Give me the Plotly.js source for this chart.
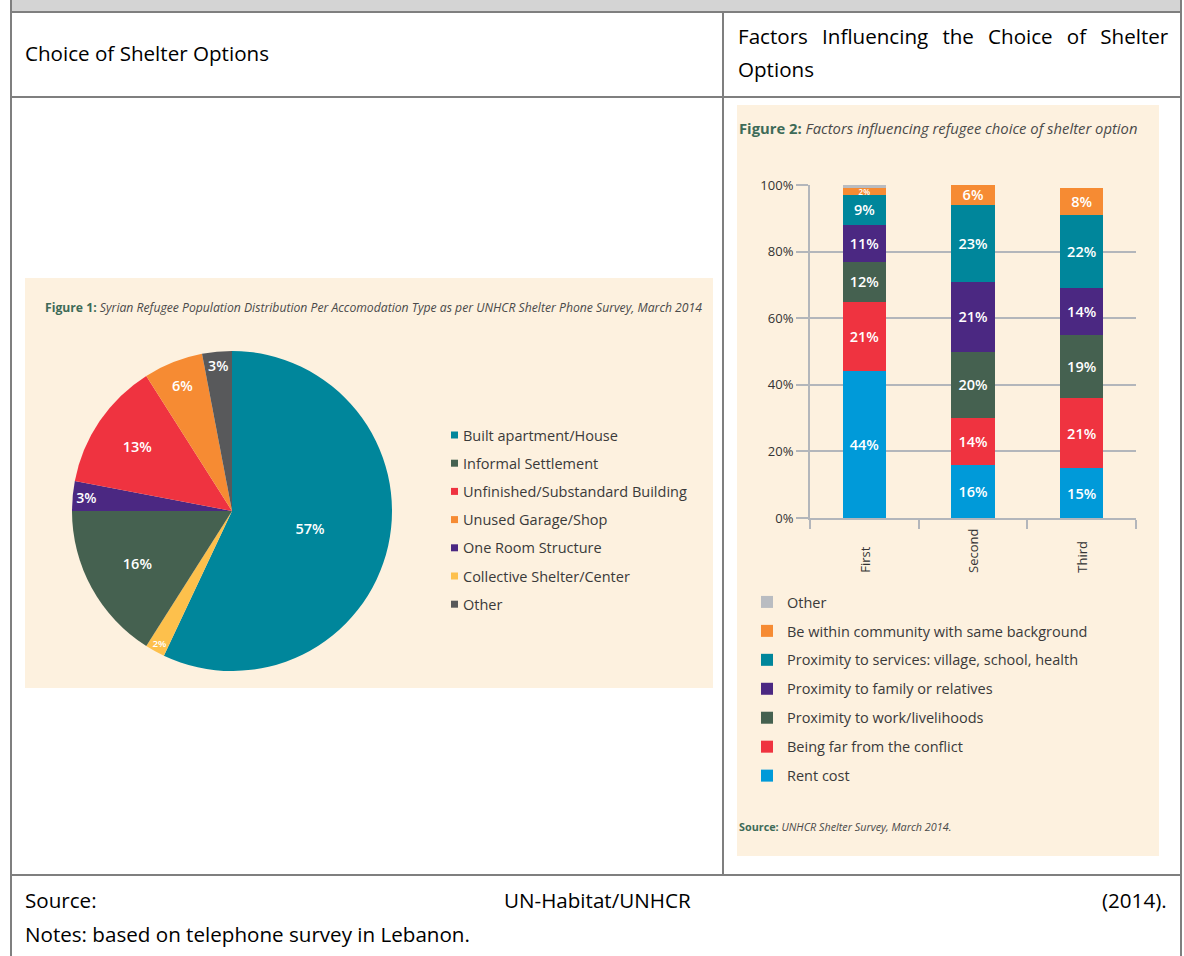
<!DOCTYPE html>
<html>
<head>
<meta charset="utf-8">
<script src="https://cdn.plot.ly/plotly-3.0.1.min.js"></script>
<style>
  html, body { margin: 0; padding: 0; background: #ffffff; }
  #chart { width: 1184px; height: 956px; }
</style>
</head>
<body>
<div id="chart"></div>
<script>
// ---------------- Data ----------------
// Figure 1 (pie): slices in clockwise order from 12 o'clock
const pieLabels = ['Built apartment/House', 'Collective Shelter/Center', 'Informal Settlement',
  'One Room Structure', 'Unfinished/Substandard Building', 'Unused Garage/Shop', 'Other'];
const pieValues = [57, 2, 16, 3, 13, 6, 3];
const pieColors = ['#00869b', '#fdc04c', '#456150', '#4b2882', '#ef3340', '#f68b33', '#58595b'];
// legend order as printed
const pieLegendOrder = ['Built apartment/House', 'Informal Settlement', 'Unfinished/Substandard Building',
  'Unused Garage/Shop', 'One Room Structure', 'Collective Shelter/Center', 'Other'];

// Figure 2 (stacked bars)
const rankCategories = ['First', 'Second', 'Third'];
const barSeriesNames = ['Rent cost', 'Being far from the conflict', 'Proximity to work/livelihoods',
  'Proximity to family or relatives', 'Proximity to services: village, school, health',
  'Be within community with same background', 'Other'];
const rentCost = [44, 16, 15];
const farFromConflict = [21, 14, 21];
const proximityWork = [12, 20, 19];
const proximityFamily = [11, 21, 14];
const proximityServices = [9, 23, 22];
const withinCommunity = [2, 6, 8];
const otherFactor = [1, 0, 0];
const barSeriesValues = [rentCost, farFromConflict, proximityWork, proximityFamily,
  proximityServices, withinCommunity, otherFactor];
const barColors = ['#009ad9', '#ef3340', '#456150', '#4b2882', '#00869b', '#f68b33', '#b9bcc1'];
const yTickVals = [0, 20, 40, 60, 80, 100];
const yTickText = yTickVals.map(v => v + '%');

// ---------------- Helpers ----------------
const W = 1184, H = 956;
const X = x => x / W;
const Y = y => 1 - y / H;
const chartFont = "'Open Sans', 'Noto Sans', sans-serif";
const docFont = "'Open Sans', 'Noto Sans', sans-serif";
const cream = '#fdf1df';
const rule = '#7f7f7f';
const axisGrey = '#b3b6bb';

// ---------------- Traces ----------------
const traces = [];
traces.push({
  type: 'pie',
  labels: pieLabels,
  values: pieValues,
  sort: false,
  direction: 'clockwise',
  rotation: 0,
  marker: { colors: pieColors, line: { width: 0 } },
  texttemplate: '%{value}%',
  textposition: 'inside',
  insidetextorientation: 'horizontal',
  insidetextfont: { family: chartFont, size: 14.5, color: '#ffffff', weight: 600 },
  domain: { x: [X(72), X(392)], y: [Y(671), Y(351)] },
  showlegend: false,
  hoverinfo: 'label+percent'
});

barSeriesNames.forEach((name, i) => {
  const vals = barSeriesValues[i];
  // tiny segments get a small label, like the printed figure
  const sizes = vals.map(v => (v < 4 ? 8 : 14.5));
  traces.push({
    type: 'bar',
    name: name,
    x: rankCategories,
    y: vals,
    text: vals.map(v => v + '%'),
    texttemplate: '%{text}',
    marker: { color: barColors[i], line: { width: 0 } },
    width: 0.4,
    textposition: name === 'Other' ? 'none' : 'inside',
    insidetextanchor: 'middle',
    constraintext: 'none',
    textangle: 0,
    textfont: { family: chartFont, size: sizes, color: '#ffffff', weight: 600 },
    legendgroup: 'g' + i,
    legendrank: 100 - i,
    hoverinfo: 'none',
    xaxis: 'x',
    yaxis: 'y'
  });
});

// ---------------- Shapes ----------------
const shapes = [
  // top grey band
  { type: 'rect', xref: 'paper', yref: 'paper', x0: X(11), x1: X(1181), y0: Y(12), y1: Y(0),
    fillcolor: '#d4d4d4', line: { width: 0 }, layer: 'below' },
  // cream panels
  { type: 'rect', xref: 'paper', yref: 'paper', x0: X(25), x1: X(713), y0: Y(688), y1: Y(278),
    fillcolor: cream, line: { width: 0 }, layer: 'below' },
  { type: 'rect', xref: 'paper', yref: 'paper', x0: X(737), x1: X(1159), y0: Y(856), y1: Y(105),
    fillcolor: cream, line: { width: 0 }, layer: 'below' },
  // table rules
  { type: 'line', xref: 'paper', yref: 'paper', x0: X(11), x1: X(11), y0: Y(0), y1: Y(956), line: { color: rule, width: 2 } },
  { type: 'line', xref: 'paper', yref: 'paper', x0: X(1181), x1: X(1181), y0: Y(0), y1: Y(956), line: { color: rule, width: 2 } },
  { type: 'line', xref: 'paper', yref: 'paper', x0: X(11), x1: X(1181), y0: Y(12), y1: Y(12), line: { color: rule, width: 2 } },
  { type: 'line', xref: 'paper', yref: 'paper', x0: X(11), x1: X(1181), y0: Y(97), y1: Y(97), line: { color: rule, width: 2 } },
  { type: 'line', xref: 'paper', yref: 'paper', x0: X(11), x1: X(1181), y0: Y(875), y1: Y(875), line: { color: rule, width: 2 } },
  { type: 'line', xref: 'paper', yref: 'paper', x0: X(723), x1: X(723), y0: Y(12), y1: Y(875), line: { color: rule, width: 2 } }
];

// ---------------- Annotations ----------------
const ann = (x, y, text, opts) => Object.assign({
  xref: 'paper', yref: 'paper', x: X(x), y: Y(y), text: text, showarrow: false,
  xanchor: 'left', yanchor: 'middle', align: 'left',
  font: { family: docFont, size: 20.6, color: '#000000' }
}, opts || {});

const gap = '&nbsp;&nbsp;&#8198;';
const annotations = [
  ann(23, 53, 'Choice of Shelter Options'),
  ann(736, 36, ['Factors', 'Influencing', 'the', 'Choice', 'of', 'Shelter'].join(gap)),
  ann(736, 69, 'Options'),
  ann(23, 900, 'Source:'),
  ann(597, 900, 'UN-Habitat/UNHCR', { xanchor: 'center', align: 'center' }),
  ann(1169, 900, '(2014).', { xanchor: 'right', align: 'right' }),
  ann(23, 934, 'Notes: based on telephone survey in Lebanon.'),
  ann(43, 307, "<b><span style='color:#3e6b58'>Figure 1:</span></b> <i>Syrian Refugee Population Distribution Per Accomodation Type as per UNHCR Shelter Phone Survey, March 2014</i>",
    { font: { family: chartFont, size: 12.2, color: '#4a4a4a' } }),
  ann(737, 128, "<b><span style='color:#3e6b58'>Figure 2:</span></b> <i>Factors influencing refugee choice of shelter option</i>",
    { font: { family: chartFont, size: 14.8, color: '#4a4a4a' } }),
  ann(737, 826, "<b><span style='color:#3e6b58'>Source:</span></b> <i>UNHCR Shelter Survey, March 2014.</i>",
    { font: { family: chartFont, size: 10.8, color: '#4a4a4a' } })
];

// category labels, bottom-aligned as in the printed figure
rankCategories.forEach(cat => {
  annotations.push({
    xref: 'x', yref: 'paper', x: cat, y: Y(575), text: cat, showarrow: false,
    textangle: -90, xanchor: 'center', yanchor: 'bottom',
    font: { family: chartFont, size: 13, color: '#333333' }
  });
});

// manual legend for the pie in the printed order
pieLegendOrder.forEach((label, k) => {
  const idx = pieLabels.indexOf(label);
  const cy = 435 + k * 28.2;
  shapes.push({ type: 'rect', xref: 'paper', yref: 'paper',
    x0: X(451), x1: X(458), y0: Y(cy + 3.5), y1: Y(cy - 3.5),
    fillcolor: pieColors[idx], line: { width: 0 } });
  annotations.push(ann(461, cy, label, { font: { family: chartFont, size: 14.5, color: '#3a3a3a' } }));
});

// ---------------- Layout ----------------
const layout = {
  width: W, height: H,
  margin: { l: 0, r: 0, t: 0, b: 0, pad: 0 },
  paper_bgcolor: '#ffffff',
  plot_bgcolor: 'rgba(0,0,0,0)',
  barmode: 'stack',
  bargap: 0.6,
  font: { family: chartFont, color: '#333333' },
  xaxis: {
    domain: [X(810), X(1136)],
    range: [-0.5, 2.5],
    type: 'category',
    showline: true, linecolor: axisGrey, linewidth: 2,
    ticks: 'outside', tickson: 'boundaries', ticklen: 9, tickwidth: 2, tickcolor: axisGrey,
    showticklabels: false,
    showgrid: false, zeroline: false, fixedrange: true
  },
  yaxis: {
    domain: [Y(518), Y(185)],
    range: [0, 100],
    tickmode: 'array',
    tickvals: yTickVals,
    ticktext: yTickText,
    showline: true, linecolor: axisGrey, linewidth: 2,
    ticks: 'outside', ticklen: 12, tickwidth: 2, tickcolor: axisGrey,
    showgrid: true, gridcolor: axisGrey, gridwidth: 2,
    tickfont: { family: chartFont, size: 13, color: '#333333' },
    zeroline: false, fixedrange: true
  },
  showlegend: true,
  legend: {
    x: X(747), y: Y(586), xanchor: 'left', yanchor: 'top',
    bgcolor: 'rgba(0,0,0,0)',
    font: { family: chartFont, size: 14.5, color: '#3a3a3a' },
    traceorder: 'grouped',
    tracegroupgap: 7.1,
    itemclick: false, itemdoubleclick: false
  },
  shapes: shapes,
  annotations: annotations
};

Plotly.newPlot('chart', traces, layout, { displayModeBar: false, staticPlot: true });
</script>
</body>
</html>
